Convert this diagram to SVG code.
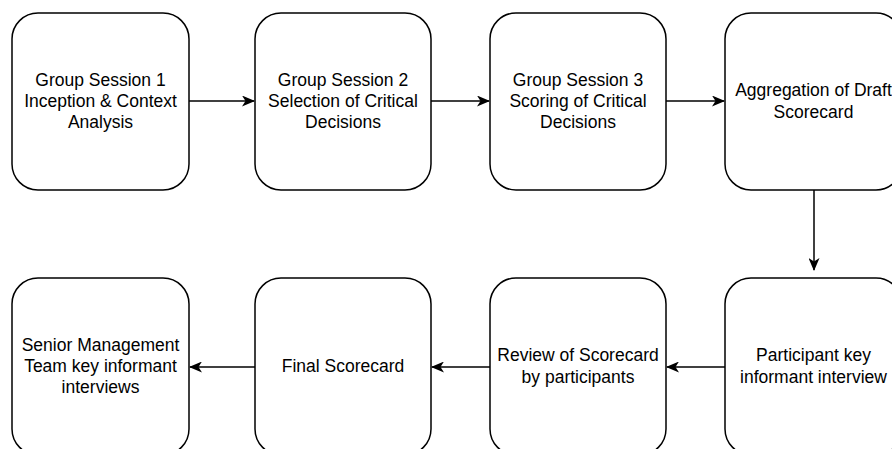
<svg xmlns="http://www.w3.org/2000/svg" width="892" height="449" viewBox="0 0 892 449">
<defs>
<style>
.box{fill:#fff;stroke:#000;stroke-width:1.5}
.lbl{font-family:"Liberation Sans",Arial,sans-serif;font-size:17.5px;fill:#000;text-anchor:middle}
.con{stroke:#000;stroke-width:1.5;fill:none;marker-end:url(#arr)}
</style>
<marker id="arr" viewBox="0 0 13 11" markerWidth="13" markerHeight="11" refX="12" refY="5.5" orient="auto" markerUnits="userSpaceOnUse">
<path d="M0,0 L13,5.5 L0,11 L3.5,5.5 Z" fill="#000"/>
</marker>
</defs>
<rect width="892" height="449" fill="#fff"/>
<g id="connectors">
<line class="con" x1="189" y1="101" x2="254" y2="101"/>
<line class="con" x1="431" y1="101" x2="489" y2="101"/>
<line class="con" x1="666" y1="101" x2="724" y2="101"/>
<line class="con" x1="814" y1="190" x2="814" y2="270"/>
<line class="con" x1="725" y1="367" x2="667" y2="367"/>
<line class="con" x1="490" y1="367" x2="432" y2="367"/>
<line class="con" x1="255" y1="367" x2="190" y2="367"/>
</g>
<g id="n1"><rect class="box" x="12" y="13" width="177" height="177" rx="26"/>
<text class="lbl" x="100.5" y="86">Group Session 1</text><text class="lbl" x="100.5" y="107">Inception &amp; Context</text><text class="lbl" x="100.5" y="128">Analysis</text></g>
<g id="n2"><rect class="box" x="255" y="13" width="176" height="177" rx="26"/>
<text class="lbl" x="343" y="86">Group Session 2</text><text class="lbl" x="343" y="107">Selection of Critical</text><text class="lbl" x="343" y="128">Decisions</text></g>
<g id="n3"><rect class="box" x="490" y="13" width="176" height="177" rx="26"/>
<text class="lbl" x="578" y="86">Group Session 3</text><text class="lbl" x="578" y="107">Scoring of Critical</text><text class="lbl" x="578" y="128">Decisions</text></g>
<g id="n4"><rect class="box" x="725" y="13" width="177" height="177" rx="26"/>
<text class="lbl" x="813.5" y="96">Aggregation of Draft</text><text class="lbl" x="813.5" y="118">Scorecard</text></g>
<g id="n5"><rect class="box" x="725" y="278" width="177" height="177" rx="26"/>
<text class="lbl" x="813.5" y="361">Participant key</text><text class="lbl" x="813.5" y="383">informant interview</text></g>
<g id="n6"><rect class="box" x="490" y="278" width="176" height="177" rx="26"/>
<text class="lbl" x="578" y="361">Review of Scorecard</text><text class="lbl" x="578" y="383">by participants</text></g>
<g id="n7"><rect class="box" x="255" y="278" width="176" height="177" rx="26"/>
<text class="lbl" x="343" y="372">Final Scorecard</text></g>
<g id="n8"><rect class="box" x="12" y="278" width="177" height="177" rx="26"/>
<text class="lbl" x="100.5" y="351">Senior Management</text><text class="lbl" x="100.5" y="372">Team key informant</text><text class="lbl" x="100.5" y="393">interviews</text></g>
</svg>
